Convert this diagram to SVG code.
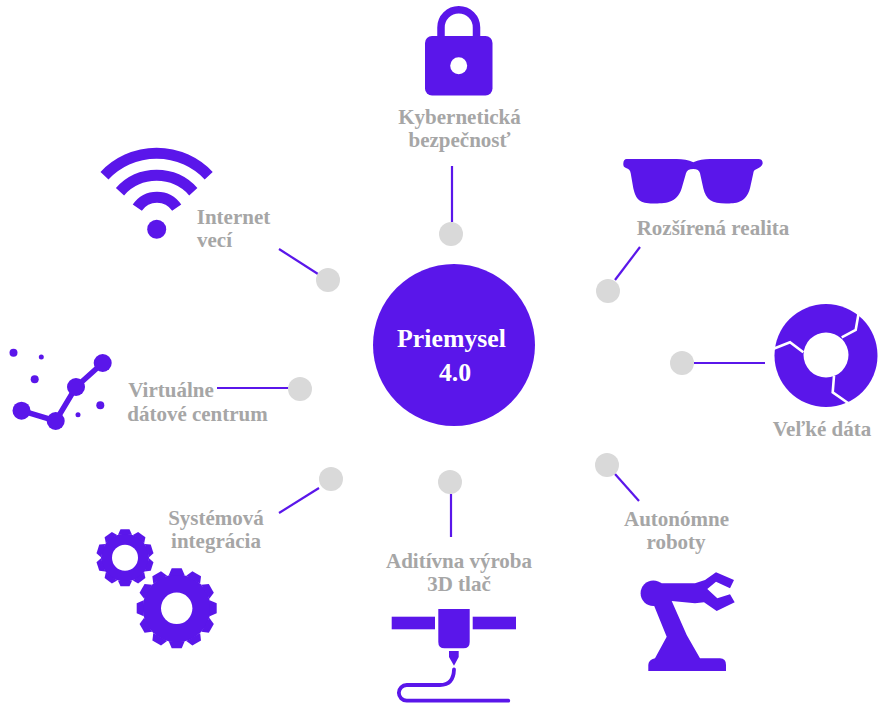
<svg xmlns="http://www.w3.org/2000/svg" width="884" height="713" viewBox="0 0 884 713">
<style>
.p{fill:#5a16ea}
.w{fill:#fff}
.dot{fill:#d9d9d9}
.c{stroke:#5a16ea;stroke-width:2.2;fill:none}
.arc{stroke:#5a16ea;fill:none}
.t{font-family:"Liberation Serif","Times New Roman",serif;font-weight:700;font-size:21px;fill:#a6a6a6;text-anchor:middle}
.h{font-family:"Liberation Serif","Times New Roman",serif;font-weight:700;font-size:25.800px;fill:#fff;text-anchor:middle}
</style>
<defs>
<path id="t1" class="p" d="M-7-23 L-4.500-28.500 H4.500 L7-23Z"/>
<path id="t2" class="p" d="M-8-33 L-5-40 H5 L8-33Z"/>
</defs>
<rect width="884" height="713" fill="#fff"/>
<g id="connectors">
<path class="c" d="M452 166V222"/>
<path class="c" d="M279 249L318 274"/>
<path class="c" d="M640 247L615 280"/>
<path class="c" d="M694 363H765"/>
<path class="c" d="M217 388H289"/>
<path class="c" d="M639 501L615 474"/>
<path class="c" d="M279 513L319 488"/>
<path class="c" d="M451 537V494"/>
</g>
<g id="center"><circle class="p" cx="454" cy="345" r="81"/><text class="h" x="451.500" y="347">Priemysel</text><text class="h" x="455" y="381">4.0</text></g>
<g id="kyberneticka">
<circle class="dot" cx="451" cy="234" r="12"/>
<path class="arc" stroke-width="7.500" d="M441 40V27.500a17.750 17.750 0 0 1 35.500 0V40"/>
<rect class="p" x="425" y="36" width="67.500" height="59.500" rx="7"/>
<circle class="w" cx="458.700" cy="65.700" r="8.500"/>
<text class="t" x="459.500" y="123.500">Kybernetická</text><text class="t" x="459.500" y="146.500">bezpečnosť</text>
</g>
<g id="realita">
<circle class="dot" cx="608" cy="291" r="12"/>
<path class="p" d="M626.700 159H676.700Q686 159 693.300 162.300Q701 159 710 159H758.300Q762.700 159 762.700 163.300Q762 167 756.700 169Q753.500 170 753.300 173.300L750 188.300C746 203.500 735 203.500 726 203.500C712 203.500 706 200 703.300 188.300L700 173.300Q699 169 693.300 169Q687 169 686 173.300L681.700 188.300C677 203.500 665 203.500 653 203.500C640 203.500 636 200 633.300 188.300L630.700 173.300Q630 169 626 168Q623 167 623.300 163.500Q623.500 159 626.700 159Z"/>
<text class="t" x="713" y="235">Rozšírená realita</text>
</g>
<g id="velke-data">
<circle class="dot" cx="682" cy="363" r="12"/>
<circle class="p" cx="826" cy="355.500" r="51.500"/>
<circle class="w" cx="826" cy="355" r="22.500"/>
<path fill="none" stroke="#fff" stroke-width="2.600" d="M859 311L855.700 330L841.700 337.300M773 349L790 342.300L803.300 352.300M834 376L832.700 392.300L848 403"/>
<text class="t" x="822" y="436">Veľké dáta</text>
</g>
<g id="roboty">
<circle class="dot" cx="607" cy="465" r="12"/>
<circle class="p" cx="653.300" cy="593.300" r="12.700"/>
<path class="p" d="M653 583.300H695L705 580L716 572.300L734 580L730 588.300L716 581.700L707.300 589L717.300 598.300L730 594.300L734.700 602.300L716.700 611L704 602.300L695 603.300L671.700 601L686.700 635L700 658.300H720Q726 658.300 726 665V671H648.300V665Q648.300 660 655 658.300L666.700 636.700L653 603Z"/>
<text class="t" x="676.500" y="526">Autonómne</text><text class="t" x="676" y="549">roboty</text>
</g>
<g id="aditivna">
<circle class="dot" cx="450" cy="482" r="12"/>
<rect class="p" x="391.700" y="616.700" width="43.300" height="12.600"/>
<rect class="p" x="472.700" y="616.700" width="43.300" height="12.600"/>
<path class="p" d="M438.300 609H469.700V642Q469.700 648.300 463.500 648.300H444.500Q438.300 648.300 438.300 642Z"/>
<path class="p" d="M449 651H458.700V657L454 665.700L449 657Z"/>
<path class="arc" stroke-width="3.800" stroke-linecap="round" d="M454 669.500Q453.500 685 440 685H406.700A7.800 7.800 0 0 0 406.700 700.700H508.300"/>
<text class="t" x="459" y="568">Aditívna výroba</text><text class="t" x="459" y="591">3D tlač</text>
</g>
<g id="systemova">
<circle class="dot" cx="331" cy="479" r="12"/>
<g transform="translate(125 557.700)">
<circle class="p" r="24"/>
<use href="#t1"/><use href="#t1" transform="rotate(36)"/><use href="#t1" transform="rotate(72)"/><use href="#t1" transform="rotate(108)"/><use href="#t1" transform="rotate(144)"/><use href="#t1" transform="rotate(180)"/><use href="#t1" transform="rotate(216)"/><use href="#t1" transform="rotate(252)"/><use href="#t1" transform="rotate(288)"/><use href="#t1" transform="rotate(324)"/>
<circle class="w" r="13"/>
</g>
<g transform="translate(176.700 608.300)">
<circle class="p" r="34"/>
<use href="#t2"/><use href="#t2" transform="rotate(30)"/><use href="#t2" transform="rotate(60)"/><use href="#t2" transform="rotate(90)"/><use href="#t2" transform="rotate(120)"/><use href="#t2" transform="rotate(150)"/><use href="#t2" transform="rotate(180)"/><use href="#t2" transform="rotate(210)"/><use href="#t2" transform="rotate(240)"/><use href="#t2" transform="rotate(270)"/><use href="#t2" transform="rotate(300)"/><use href="#t2" transform="rotate(330)"/>
<circle class="w" r="15.700"/>
</g>
<text class="t" x="216" y="525">Systémová</text><text class="t" x="216" y="548">integrácia</text>
</g>
<g id="datove-centrum">
<circle class="dot" cx="300" cy="389" r="12"/>
<path class="arc" stroke-width="5.500" d="M21.500 410.700L55.700 421L76 387L102.700 363"/>
<circle class="p" cx="21.500" cy="410.700" r="9"/><circle class="p" cx="55.700" cy="421" r="9"/><circle class="p" cx="76" cy="387" r="9"/><circle class="p" cx="102.700" cy="363" r="9"/>
<circle class="p" cx="13.500" cy="352.700" r="4"/><circle class="p" cx="41.300" cy="357" r="2.500"/><circle class="p" cx="34.700" cy="379.300" r="4"/><circle class="p" cx="100.300" cy="405.300" r="4"/><circle class="p" cx="78" cy="414.700" r="2.500"/>
<text class="t" x="171" y="397">Virtuálne</text><text class="t" x="197.500" y="421">dátové centrum</text>
</g>
<g id="internet">
<circle class="dot" cx="328" cy="280" r="12"/>
<circle class="p" cx="156.700" cy="229.300" r="9.500"/>
<path class="arc" stroke-width="11" d="M104.500 175.700A71.600 71.600 0 0 1 208.700 175.700"/>
<path class="arc" stroke-width="11" d="M120 191.700A49.300 49.300 0 0 1 193.300 191.700"/>
<path class="arc" stroke-width="11" d="M137.300 207.700A23.800 23.800 0 0 1 176.700 207.700"/>
<text class="t" x="233.500" y="224">Internet</text><text class="t" x="214.500" y="247">vecí</text>
</g>
</svg>
